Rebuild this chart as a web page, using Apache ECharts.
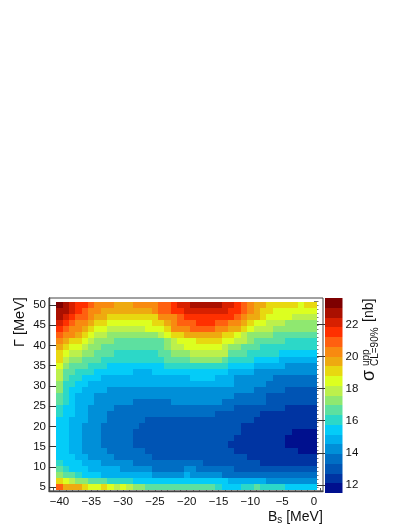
<!DOCTYPE html>
<html>
<head>
<meta charset="utf-8">
<style>html,body{margin:0;padding:0;background:#fff}#chart{width:411px;height:532px}</style>
<script src="https://cdn.jsdelivr.net/npm/echarts@6/dist/echarts.min.js"></script>
</head>
<body>
<div id="chart"></div>
<script>
const bsValues = [-40,-39,-38,-37,-36,-35,-34,-33,-32,-31,-30,-29,-28,-27,-26,-25,-24,-23,-22,-21,-20,-19,-18,-17,-16,-15,-14,-13,-12,-11,-10,-9,-8,-7,-6,-5,-4,-3,-2,-1,0];
const gammaValues = [50,48.5,47,45.5,44,42.5,41,39.5,38,36.5,35,33.5,32,30.5,29,27.5,26,24.5,23,21.5,20,18.5,17,15.5,14,12.5,11,9.5,8,6.5,5];
// upper limit in nb, one row per gamma value, top row first
const sigma = [
[23.3,22.7,22.1,21.5,21.5,20.9,20.3,20.3,20.3,19.7,19.7,19.7,20.3,20.3,20.3,20.3,20.9,20.9,21.5,22.1,22.1,22.7,22.7,22.7,22.7,22.7,22.1,22.1,21.5,20.9,20.3,19.7,19.7,19.1,19.1,19.1,19.1,19.1,18.5,19.1,19.1],
[22.7,22.7,22.1,21.5,20.9,20.3,20.3,19.7,19.7,19.7,19.7,19.7,19.7,19.7,19.7,20.3,20.9,20.9,21.5,21.5,22.1,22.1,22.1,22.1,22.1,22.1,22.1,21.5,21.5,20.9,20.3,19.7,19.1,19.1,18.5,18.5,18.5,18.5,18.5,18.5,18.5],
[22.7,22.1,21.5,20.9,20.9,20.3,19.7,19.7,19.1,19.1,19.1,19.1,19.1,19.1,19.1,19.1,20.3,20.3,20.3,20.9,21.5,21.5,21.5,21.5,21.5,21.5,21.5,21.5,20.9,20.3,19.7,19.7,19.1,18.5,18.5,18.5,18.5,17.9,17.9,17.9,17.9],
[22.1,21.5,20.9,20.3,20.3,19.7,19.1,19.1,18.5,18.5,18.5,18.5,18.5,18.5,18.5,19.1,19.1,19.7,20.3,20.9,20.9,20.9,21.5,21.5,21.5,20.9,20.9,20.3,20.3,19.7,19.1,18.5,18.5,17.9,17.9,17.9,17.3,17.3,17.3,17.3,17.3],
[21.5,20.9,20.3,20.3,19.7,19.1,18.5,18.5,17.9,17.9,17.9,17.9,17.9,17.9,18.5,18.5,18.5,19.1,20.3,20.3,20.3,20.9,20.9,20.9,20.9,20.3,20.3,19.7,19.7,19.1,18.5,17.9,17.9,17.9,17.3,17.3,17.3,17.3,17.3,17.3,17.3],
[20.9,20.3,20.3,19.7,19.1,18.5,17.9,17.9,17.3,17.3,17.3,17.3,17.3,17.3,17.3,17.3,17.9,18.5,19.1,19.1,19.7,19.7,19.7,19.7,19.7,19.7,19.1,19.1,18.5,17.9,17.3,17.3,17.3,17.3,16.7,16.7,16.7,16.7,16.7,16.7,16.7],
[20.3,19.7,19.1,19.1,18.5,17.9,17.3,17.3,17.3,16.7,16.7,16.7,16.7,16.7,16.7,16.7,16.7,17.3,17.9,18.5,18.5,18.5,19.1,19.1,19.1,19.1,18.5,18.5,17.9,17.9,17.3,16.7,16.7,16.7,16.7,16.7,16.1,16.1,16.1,16.1,16.1],
[19.7,19.1,18.5,18.5,17.9,17.3,17.3,16.7,16.7,16.7,16.7,16.7,16.7,16.7,16.7,16.7,16.7,17.3,17.9,17.9,18.5,18.5,18.5,18.5,18.5,18.5,17.9,17.3,17.3,16.7,16.7,16.7,16.1,16.1,16.1,16.1,16.1,16.1,16.1,16.1,16.1],
[19.1,18.5,17.9,17.9,17.3,17.3,16.7,16.7,16.7,16.1,16.1,16.1,16.1,16.1,16.1,16.1,16.7,16.7,17.3,17.3,17.3,17.9,17.9,17.9,17.9,17.9,17.9,16.7,16.7,16.7,16.1,16.1,16.1,16.1,16.1,15.4,15.4,15.4,15.4,15.4,15.4],
[19.1,17.9,17.3,17.3,16.7,16.7,16.7,16.1,16.1,16.1,16.1,16.1,16.1,16.1,16.1,16.1,16.1,16.7,16.7,16.7,16.7,17.3,17.3,17.3,17.3,17.3,16.7,16.1,16.1,16.1,16.1,15.4,15.4,15.4,15.4,14.8,14.8,14.8,14.8,14.8,14.8],
[18.5,17.3,16.7,16.7,16.7,16.1,16.1,16.1,15.4,15.4,15.4,15.4,15.4,15.4,15.4,15.4,15.4,16.1,16.1,16.1,16.1,16.1,16.1,16.1,16.1,16.1,16.1,15.4,15.4,15.4,15.4,14.8,14.8,14.8,14.8,14.8,14.2,14.2,14.2,14.2,14.2],
[17.9,16.7,16.7,16.1,16.1,16.1,15.4,15.4,15.4,15.4,15.4,15.4,14.8,14.8,14.8,15.4,15.4,15.4,15.4,15.4,15.4,15.4,15.4,15.4,15.4,15.4,15.4,14.8,14.8,14.8,14.8,14.2,14.2,14.2,14.2,14.2,14.2,14.2,14.2,14.2,14.2],
[17.9,16.7,16.1,16.1,15.4,15.4,15.4,14.8,14.8,14.8,14.8,14.8,14.8,14.8,14.8,14.8,14.8,14.8,14.8,14.8,14.8,15.4,15.4,15.4,15.4,14.8,14.8,14.8,14.2,14.2,14.2,14.2,14.2,14.2,13.6,13.6,13.6,13.6,13.6,13.6,13.6],
[17.3,16.1,16.1,15.4,15.4,14.8,14.8,14.8,14.8,14.8,14.8,14.8,14.8,14.8,14.8,14.8,14.8,14.8,14.8,14.8,14.8,14.8,14.8,14.8,14.8,14.8,14.8,14.8,14.2,14.2,14.2,14.2,14.2,13.6,13.6,13.6,13.6,13.6,13.6,13.6,13.6],
[17.3,16.1,15.4,15.4,14.8,14.8,14.8,14.8,14.2,14.2,14.2,14.2,14.2,14.2,14.2,14.2,14.2,14.2,14.2,14.2,14.2,14.2,14.2,14.2,14.2,14.2,14.2,14.2,14.2,14.2,14.2,13.6,13.6,13.6,13.6,13.6,13,13,13,13,13],
[16.7,16.1,15.4,14.8,14.8,14.8,14.2,14.2,14.2,14.2,14.2,14.2,14.2,14.2,14.2,14.2,14.2,14.2,14.2,14.2,14.2,14.2,14.2,14.2,14.2,14.2,14.2,14.2,13.6,13.6,13.6,13.6,13.6,13,13,13,13,13,13,13,13],
[16.7,16.1,15.4,14.8,14.8,14.8,14.2,14.2,14.2,14.2,14.2,14.2,13.6,13.6,13.6,13.6,13.6,13.6,14.2,14.2,14.2,14.2,14.2,14.2,14.2,14.2,13.6,13.6,13.6,13.6,13.6,13.6,13.6,13,13,13,13,13,13,13,13],
[16.1,15.4,15.4,14.8,14.8,14.2,14.2,14.2,14.2,13.6,13.6,13.6,13.6,13.6,13.6,13.6,13.6,13.6,13.6,13.6,13.6,13.6,13.6,13.6,13.6,13.6,13.6,13.6,13,13,13,13,13,13,13,13,12.4,12.4,12.4,12.4,12.4],
[16.1,15.4,15.4,14.8,14.8,14.2,14.2,14.2,13.6,13.6,13.6,13.6,13.6,13.6,13.6,13.6,13.6,13.6,13.6,13.6,13.6,13.6,13.6,13.6,13.6,13,13,13,13,13,13,13,12.4,12.4,12.4,12.4,12.4,12.4,12.4,12.4,12.4],
[15.4,15.4,14.8,14.8,14.8,14.2,14.2,14.2,13.6,13.6,13.6,13.6,13.6,13.6,13,13,13,13,13,13,13,13,13,13,13,13,13,13,13,13,13,12.4,12.4,12.4,12.4,12.4,12.4,12.4,12.4,12.4,12.4],
[15.4,15.4,14.8,14.8,14.2,14.2,14.2,13.6,13.6,13.6,13.6,13.6,13.6,13,13,13,13,13,13,13,13,13,13,13,13,13,13,13,13,12.4,12.4,12.4,12.4,12.4,12.4,12.4,12.4,12.4,12.4,12.4,12.4],
[15.4,15.4,14.8,14.8,14.2,14.2,14.2,13.6,13.6,13.6,13.6,13.6,13,13,13,13,13,13,13,13,13,13,13,13,13,13,13,13,13,12.4,12.4,12.4,12.4,12.4,12.4,12.4,12.4,11.8,11.8,11.8,11.8],
[15.4,15.4,14.8,14.8,14.2,14.2,14.2,13.6,13.6,13.6,13.6,13.6,13,13,13,13,13,13,13,13,13,13,13,13,13,13,13,13,12.4,12.4,12.4,12.4,12.4,12.4,12.4,12.4,11.8,11.8,11.8,11.8,11.8],
[15.4,15.4,14.8,14.8,14.2,14.2,14.2,13.6,13.6,13.6,13.6,13.6,13,13,13,13,13,13,13,13,13,13,13,13,13,13,13,12.4,12.4,12.4,12.4,12.4,12.4,12.4,12.4,12.4,11.8,11.8,11.8,11.8,11.8],
[15.4,15.4,14.8,14.8,14.2,14.2,14.2,14.2,13.6,13.6,13.6,13.6,13.6,13.6,13,13,13,13,13,13,13,13,13,13,13,13,13,13,12.4,12.4,12.4,12.4,12.4,12.4,12.4,12.4,12.4,12.4,11.8,11.8,11.8],
[15.4,15.4,15.4,14.8,14.8,14.2,14.2,14.2,14.2,13.6,13.6,13.6,13.6,13.6,13.6,13,13,13,13,13,13,13,13,13,13,13,13,13,13,13,12.4,12.4,12.4,12.4,12.4,12.4,12.4,12.4,12.4,12.4,12.4],
[16.1,15.4,15.4,15.4,14.8,14.8,14.8,14.2,14.2,14.2,14.2,14.2,13.6,13.6,13.6,13.6,13.6,13.6,13.6,13.6,13.6,13.6,13.6,13,13,13,13,13,13,13,13,13,12.4,12.4,12.4,12.4,12.4,12.4,12.4,12.4,12.4],
[16.7,16.1,15.4,15.4,15.4,14.8,14.8,14.8,14.8,14.8,14.2,14.2,14.2,14.2,14.2,13.6,13.6,13.6,13.6,13.6,14.2,14.2,13.6,13.6,13.6,13.6,13.6,13.6,13,13,13,13,13,13,13,13,13,13,13,13,13],
[17.3,16.7,16.7,16.1,15.4,15.4,15.4,14.8,14.8,14.8,14.8,14.8,14.8,14.8,14.8,14.2,14.2,14.2,14.2,14.2,14.8,14.2,14.2,14.2,14.2,14.2,13.6,13.6,13.6,13.6,13.6,13.6,13.6,13.6,13.6,13.6,13.6,13.6,13.6,13.6,13.6],
[19.1,18.5,17.9,17.3,17.3,16.7,16.7,16.7,16.1,16.1,16.1,16.1,15.4,15.4,15.4,15.4,15.4,15.4,15.4,15.4,15.4,15.4,15.4,15.4,15.4,15.4,15.4,14.8,14.8,14.8,14.8,14.8,14.8,14.2,14.2,14.2,14.2,14.2,14.2,14.2,14.2],
[20.9,19.7,19.7,19.7,19.1,18.5,18.5,19.1,18.5,17.9,18.5,17.9,17.3,17.3,16.7,16.7,16.7,16.7,16.7,16.7,16.7,16.7,16.7,16.7,16.7,16.1,15.4,15.4,15.4,16.1,16.1,16.7,16.1,16.1,16.1,16.1,15.4,15.4,15.4,15.4,15.4]
];
const palette = ['#00108e','#0034a2','#0054b4','#006ec4','#008fd8','#00b0ee','#04ccf8','#2cd8c8','#5de0a0','#8fe870','#bcf04c','#dcff20','#e8d810','#eeaa10','#f88a10','#ff6010','#ff3000','#d82000','#aa1000','#7e0000'];
const zMin = 11.5;
const zMax = 23.64;
const xMajor = [-40,-35,-30,-25,-20,-15,-10,-5,0];
const xMinor = [-41,-40,-39,-38,-37,-36,-35,-34,-33,-32,-31,-30,-29,-28,-27,-26,-25,-24,-23,-22,-21,-20,-19,-18,-17,-16,-15,-14,-13,-12,-11,-10,-9,-8,-7,-6,-5,-4,-3,-2,-1,0,1];
const yMajor = [5,10,15,20,25,30,35,40,45,50];
const yMinor = [5,6,7,8,9,10,11,12,13,14,15,16,17,18,19,20,21,22,23,24,25,26,27,28,29,30,31,32,33,34,35,36,37,38,39,40,41,42,43,44,45,46,47,48,49,50,51];
const zTicks = [12,14,16,18,20,22];

const dz = (zMax - zMin) / palette.length;
const levelOf = v => Math.max(0, Math.min(palette.length - 1, Math.floor((v - zMin) / dz)));
const cells = [];
sigma.forEach((row, i) => row.forEach((v, j) => cells.push([bsValues[j], gammaValues[i], v])));
const bands = palette.map((c, i) => [zMin + i * dz, zMin + (i + 1) * dz, i]);

const FONT = '"Liberation Sans", Arial, sans-serif';
const INK = '#111';

function renderCell(params, api) {
  const p = api.coord([api.value(0), api.value(1)]);
  const s = api.size([1, 1.5]);
  const x0 = Math.round(p[0] - s[0] / 2);
  const x1 = Math.round(p[0] + s[0] / 2);
  const y0 = Math.round(p[1] - s[1] / 2);
  const y1 = Math.round(p[1] + s[1] / 2);
  return {
    type: 'rect',
    shape: { x: x0, y: y0, width: x1 - x0, height: y1 - y0 },
    style: { fill: palette[levelOf(api.value(2))] }
  };
}
function renderBand(params, api) {
  const top = Math.round(api.coord([0, api.value(1)])[1]);
  const bottom = Math.round(api.coord([0, api.value(0)])[1]);
  return {
    type: 'rect',
    shape: { x: params.coordSys.x, y: top, width: params.coordSys.width, height: bottom - top },
    style: { fill: palette[api.value(2)] }
  };
}
const tickLabel = v => String(v).replace('-', '\u2212');
const labelStyle = { color: INK, fontFamily: FONT, fontSize: 11.5 };

const chart = echarts.init(document.getElementById('chart'), null, { renderer: 'canvas' });
chart.setOption({
  animation: false,
  backgroundColor: '#fff',
  grid: [
    { left: 49, top: 298, width: 274, height: 193, show: true, borderColor: '#444', borderWidth: 1, backgroundColor: '#fff' },
    { left: 325, top: 298, width: 17.5, height: 195 }
  ],
  xAxis: [
    { type: 'value', gridIndex: 0, position: 'bottom', min: -41.65, max: 1.415, splitLine: { show: false },
      axisLine: { onZero: false, lineStyle: { color: '#444', width: 1.4 } },
      axisTick: { inside: true, length: 6, customValues: xMajor, lineStyle: { color: '#333' } },
      axisLabel: { customValues: xMajor, formatter: tickLabel, margin: 5, ...labelStyle } },
    { type: 'value', gridIndex: 0, position: 'bottom', min: -41.65, max: 1.415, splitLine: { show: false },
      axisLine: { show: false },
      axisTick: { inside: true, length: 3, customValues: xMinor, lineStyle: { color: '#555' } },
      axisLabel: { show: false } },
    { type: 'value', gridIndex: 1, min: 0, max: 1, show: false }
  ],
  yAxis: [
    { type: 'value', gridIndex: 0, position: 'left', min: 4.01, max: 51.73, splitLine: { show: false },
      axisLine: { onZero: false, lineStyle: { color: '#444', width: 1.4 } },
      axisTick: { inside: true, length: 7, customValues: yMajor, lineStyle: { color: '#333' } },
      axisLabel: { customValues: yMajor, margin: 3, ...labelStyle } },
    { type: 'value', gridIndex: 0, position: 'left', min: 4.01, max: 51.73, splitLine: { show: false },
      axisLine: { show: false },
      axisTick: { inside: true, length: 4.5, customValues: yMinor, lineStyle: { color: '#777' } },
      axisLabel: { show: false } },
    { type: 'value', gridIndex: 1, position: 'right', min: zMin, max: zMax, splitLine: { show: false },
      axisLine: { show: false },
      axisTick: { inside: true, length: 8, customValues: zTicks, lineStyle: { color: '#333' } },
      axisLabel: { customValues: zTicks, margin: 3, ...labelStyle }, z: 5 }
  ],
  series: [
    { type: 'custom', xAxisIndex: 0, yAxisIndex: 0, data: cells, encode: { x: 0, y: 1 }, renderItem: renderCell, silent: true },
    { type: 'custom', xAxisIndex: 2, yAxisIndex: 2, data: bands, encode: { y: [0, 1] }, renderItem: renderBand, silent: true }
  ],
  graphic: [
    { type: 'text', x: 20, y: 347, rotation: Math.PI / 2, z: 10,
      style: { text: '\u0393 [MeV]', font: '14.5px ' + FONT, fill: INK, textAlign: 'left', textVerticalAlign: 'middle' } },
    { type: 'text', x: 268, y: 517, z: 10,
      style: { text: '{a|B}{b|s}{a| [MeV]}', textAlign: 'left', textVerticalAlign: 'middle', fill: INK,
        rich: { a: { font: '14px ' + FONT, fill: INK }, b: { font: '10px ' + FONT, fill: INK, verticalAlign: 'bottom', padding: [6, 0, 0, 0] } } } },
    { type: 'text', x: 369, y: 381, rotation: Math.PI / 2, z: 10,
      style: { text: '\u03c3', font: '18px ' + FONT, fill: INK, textAlign: 'left', textVerticalAlign: 'middle' } },
    { type: 'text', x: 366, y: 366, rotation: Math.PI / 2, z: 10,
      style: { text: 'upp', font: '10px ' + FONT, fill: INK, textAlign: 'left', textVerticalAlign: 'middle' } },
    { type: 'text', x: 375, y: 366, rotation: Math.PI / 2, z: 10,
      style: { text: 'CL=90%', font: '10px ' + FONT, fill: INK, textAlign: 'left', textVerticalAlign: 'middle' } },
    { type: 'text', x: 369, y: 322, rotation: Math.PI / 2, z: 10,
      style: { text: '[nb]', font: '14px ' + FONT, fill: INK, textAlign: 'left', textVerticalAlign: 'middle' } }
  ]
});
</script>
</body>
</html>
